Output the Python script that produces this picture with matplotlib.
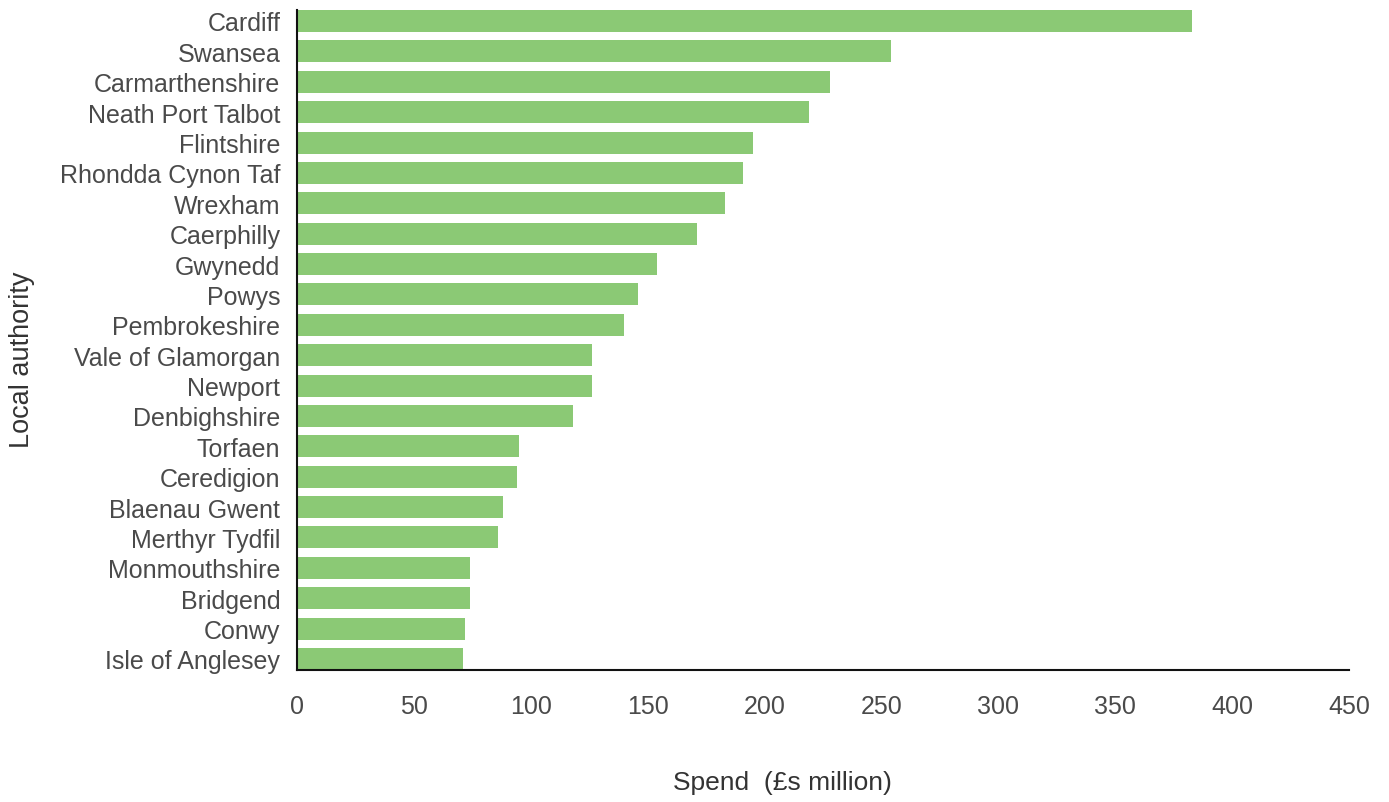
import numpy as np
import matplotlib.pyplot as plt

authorities = ["Cardiff", "Swansea", "Carmarthenshire", "Neath Port Talbot", "Flintshire",
               "Rhondda Cynon Taf", "Wrexham", "Caerphilly", "Gwynedd", "Powys",
               "Pembrokeshire", "Vale of Glamorgan", "Newport", "Denbighshire", "Torfaen",
               "Ceredigion", "Blaenau Gwent", "Merthyr Tydfil", "Monmouthshire", "Bridgend",
               "Conwy", "Isle of Anglesey"]
spend = [383, 254, 228, 219, 195, 191, 183, 171, 154, 146, 140, 126, 126, 118, 95, 94,
         88, 86, 74, 74, 72, 71]
xticks = [0, 50, 100, 150, 200, 250, 300, 350, 400, 450]

plt.rcParams['font.family'] = ['Liberation Sans', 'DejaVu Sans']

fig = plt.figure(figsize=(13.89, 8.03), dpi=100)
ax = fig.add_axes([0.2138, 0.1644, 0.7574, 0.8219])

y = np.arange(len(authorities))
ax.barh(y, spend, height=0.724, color='#8bc975')

ax.set_ylim(len(authorities) - 0.638, -0.362)
ax.set_xlim(0, 450)
ax.set_yticks(y)
ax.set_yticklabels(authorities)
ax.set_xticks(xticks)

for s in ['top', 'right']:
    ax.spines[s].set_visible(False)
for s in ['left', 'bottom']:
    ax.spines[s].set_linewidth(1.5)
    ax.spines[s].set_color('#111111')

ax.tick_params(axis='y', length=0, pad=12, labelsize=18, labelcolor='#4a4a4a')
ax.tick_params(axis='x', length=0, pad=17, labelsize=18, labelcolor='#4a4a4a')

ax.set_xlabel('Spend  (£s million)', fontsize=19, color='#333333')
ax.xaxis.set_label_coords((782 - 297) / 1052, -(771 - 671) / 660)
ax.set_ylabel('Local authority', fontsize=19.5, color='#333333')
ax.yaxis.set_label_coords(-(297 - 35) / 1052, (671 - 360) / 660)

plt.savefig('out.png', dpi=100)
